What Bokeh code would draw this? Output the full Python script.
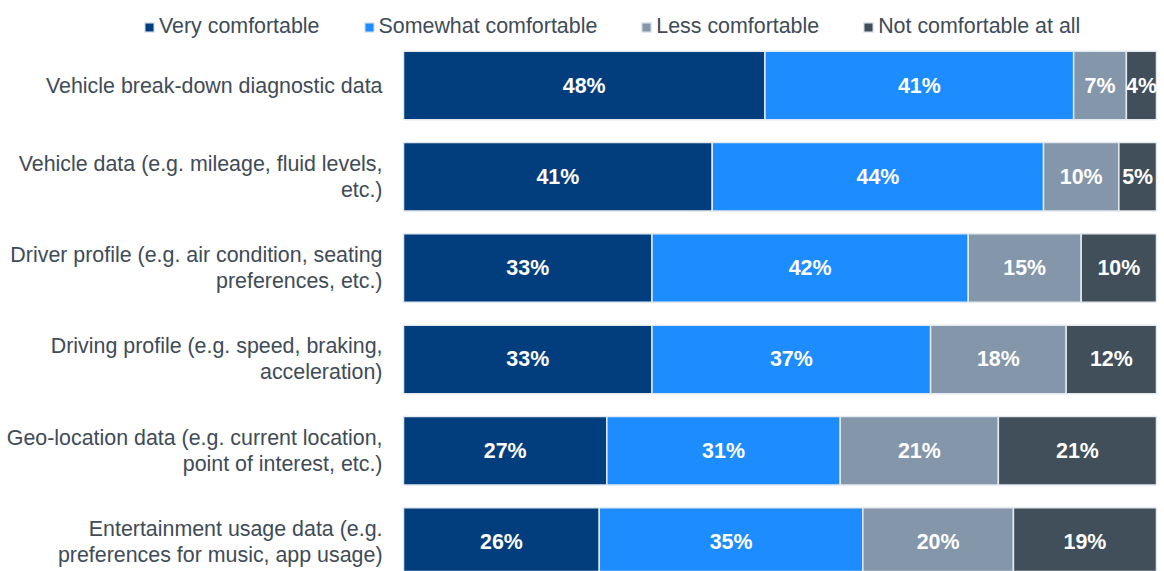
import numpy as np
from bokeh.plotting import figure
from bokeh.models import ColumnDataSource, Range1d, Legend, LegendItem
from bokeh.core.properties import value
from bokeh.embed import file_html
from bokeh.resources import INLINE

categories = [
    "Vehicle break-down diagnostic data",
    "Vehicle data (e.g. mileage, fluid levels,\netc.)",
    "Driver profile (e.g. air condition, seating\npreferences, etc.)",
    "Driving profile (e.g. speed, braking,\nacceleration)",
    "Geo-location data (e.g. current location,\npoint of interest, etc.)",
    "Entertainment usage data (e.g.\npreferences for music, app usage)",
]
series_names = ["Very comfortable", "Somewhat comfortable", "Less comfortable", "Not comfortable at all"]
very = [48, 41, 33, 33, 27, 26]
somewhat = [41, 44, 42, 37, 31, 35]
less = [7, 10, 15, 18, 21, 20]
notc = [4, 5, 10, 12, 21, 19]
colors = ["#023E7D", "#1C8CFF", "#8496A9", "#414F5B"]

keys = ["very", "somewhat", "less", "notc"]
vals = [very, somewhat, less, notc]
ypos = list(range(len(categories)))
data = dict(y=ypos)
for k, v in zip(keys, vals):
    data[k] = v
src = ColumnDataSource(data)

FONT = "Liberation Sans"
FS = "21.4px"
W, H = 1164, 571
bar_left_px, bar_right_px = 403, 1156
px_per_unit = (bar_right_px - bar_left_px) / 100.0
row_px, first_center_px = 91.3, 85.0

p = figure(width=W, height=H, output_backend="svg", toolbar_location=None,
           x_range=Range1d(-bar_left_px / px_per_unit, (W - bar_left_px) / px_per_unit),
           y_range=Range1d((H - first_center_px) / row_px, -first_center_px / row_px),
           min_border_left=0, min_border_right=0, min_border_top=0, min_border_bottom=0)
p.outline_line_color = None
p.xgrid.visible = False
p.ygrid.visible = False
p.xaxis.visible = False
p.yaxis.visible = False

renderers = p.hbar_stack(keys, y="y", height=0.75, color=colors, source=src,
                         line_color="#E4E9EF", line_width=1.5)

# value labels
lefts = np.zeros(len(categories))
for k, v in zip(keys, vals):
    v = np.array(v, dtype=float)
    lsrc = ColumnDataSource(dict(x=lefts + v / 2, y=ypos, t=[f"{int(a)}%" for a in v]))
    p.text(x="x", y="y", text="t", source=lsrc, text_align="center", text_baseline="middle",
           text_color="white", text_font=value(FONT), text_font_style="bold",
           text_font_size=FS)
    lefts = lefts + v

# category labels
csrc = ColumnDataSource(dict(x=[0] * len(categories), y=ypos, t=categories))
p.text(x="x", y="y", text="t", source=csrc, x_offset=-21, text_align="right",
       text_baseline="middle", text_color="#404B57", text_font=value(FONT),
       text_font_size=FS, text_line_height=1.08)

legend = Legend(items=[LegendItem(label=n, renderers=[r]) for n, r in zip(series_names, renderers)],
                orientation="horizontal", location=(143, H - 39),
                glyph_width=12, glyph_height=12, label_standoff=4, spacing=43,
                padding=0, margin=0, border_line_alpha=0, background_fill_alpha=0,
                label_text_font=FONT, label_text_font_size=FS, label_text_color="#404B57")
p.add_layout(legend, "center")

open("out.html", "w").write(file_html(p, INLINE))
